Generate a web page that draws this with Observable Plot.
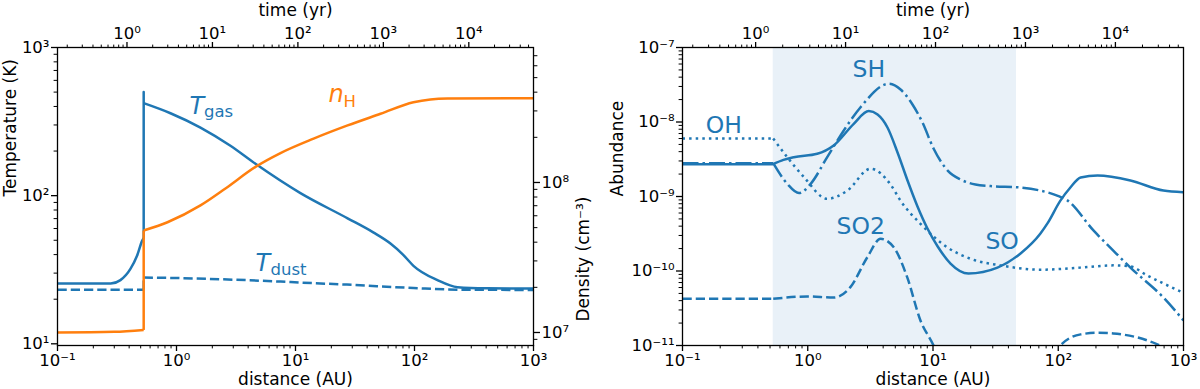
<!DOCTYPE html>
<html><head><meta charset="utf-8">
<script src="https://cdn.jsdelivr.net/npm/d3@7"></script>
<script src="https://cdn.jsdelivr.net/npm/@observablehq/plot@0.6"></script>
<style>
html,body{margin:0;padding:0;background:#fff;}
#chart{position:relative;width:1200px;height:389px;color:#000;font-family:"DejaVu Sans",sans-serif;}
#chart svg{position:absolute;left:0;top:0;background:transparent !important;max-width:none !important;overflow:visible;}
</style></head><body><div id="chart"></div>
<script>
// ---------- data ----------
const distanceTicks = [0.1, 1, 10, 100, 1000];
const temperatureTicks = [10, 100, 1000];
const densityTicks = [1e7, 1e8];
const abundanceTicks = [1e-11, 1e-10, 1e-9, 1e-8, 1e-7];
const timeTicks = [1, 10, 100, 1000, 10000];

const distanceDomain = [0.1, 1000];
const temperatureDomain = [9.74, 1000];
const densityDomain = [8.19e6, 7.94e8];
const abundanceDomain = [1e-11, 1e-7];
const timeDomain = [0.1538, 57150];

const jumpDistance = 0.53;
const shockRegion = [0.53, 46.4];

// [distance (AU), temperature (K)]
const Tgas = [[0.1,25.5],[0.28,25.5],[0.338,26.9],[0.41,32],[0.467,39.4],[0.515,49.7],[0.53,52],[0.53,500],[0.53,421],
  [0.89,360],[1.59,288],[2.84,217],[4.61,164],[11,104],[27.4,70.3],[45,56.5],[62.8,47.5],[80,40],[98,33.6],[156,26.9],
  [230,24.1],[400,23.7],[1000,23.6]];
const Tdust = [[0.1,23.2],[0.53,23.2],[0.53,28.0],[1,27.8],[3,27.1],[7.5,26.3],[11,25.9],[27,25.1],[98,23.8],[230,23.2],[1000,23.1]];
// [distance (AU), density (cm^-3)]
const nH = [[0.1,1.0e7],[0.3,1.01e7],[0.53,1.04e7],[0.53,4.79e7],[0.84,5.43e7],[1.59,7.03e7],[2.58,9.12e7],[4.61,1.27e8],
  [7.48,1.57e8],[14.2,1.96e8],[27.4,2.4e8],[51.8,2.87e8],[98,3.43e8],[136,3.58e8],[189,3.63e8],[1000,3.65e8]];
// [distance (AU), abundance]
const SO = [[0.1,2.72e-9],[0.53,2.72e-9],[0.64,3.1e-9],[0.774,3.37e-9],[1.19,3.74e-9],[1.61,4.84e-9],[2.33,9.46e-9],[3.07,1.40e-8],
  [3.61,1.26e-8],[4.33,8.43e-9],[5.21,3.90e-9],[6.26,1.64e-9],[7.52,7.35e-10],[9.03,3.72e-10],[10.9,2.13e-10],[13.8,1.26e-10],
  [19.2,9.25e-11],[32.7,1.11e-10],[50,1.72e-10],[72.1,3.19e-10],[82,4.35e-10],[104,8.8e-10],[125,1.32e-9],[151,1.80e-9],
  [206,1.91e-9],[377,1.64e-9],[692,1.20e-9],[1000,1.14e-9]];
const SH = [[0.1,2.80e-9],[0.53,2.80e-9],[0.686,1.48e-9],[0.851,1.11e-9],[1.055,1.48e-9],[1.43,3.37e-9],[1.94,7.7e-9],[2.64,1.58e-8],
  [4.44,3.26e-8],[5.51,2.73e-8],[6.86,1.72e-8],[8.24,9.84e-9],[10.1,4.41e-9],[13.1,2.23e-9],[16.6,1.69e-9],[21.8,1.45e-9],
  [28.8,1.38e-9],[49.9,1.32e-9],[72,1.20e-9],[98,1.03e-9],[119,8.8e-10],[191,3.5e-10],[275,1.88e-10],[377,1.11e-10],
  [692,4.4e-11],[1000,2.17e-11]];
const OH = [[0.1,6.0e-9],[0.53,6.0e-9],[0.686,3.37e-9],[0.93,1.83e-9],[1.43,9.3e-10],[2.07,1.2e-9],[3.17,2.36e-9],[4.58,1.45e-9],
  [5.5,8.8e-10],[7.94,4.3e-10],[13.0,2.08e-10],[19.9,1.46e-10],[34.5,1.19e-10],[72,1.04e-10],[150,1.11e-10],[275,1.19e-10],
  [377,1.15e-10],[514,8.7e-11],[692,6.8e-11],[1000,5.1e-11]];
const SO2 = [[0.1,4.23e-11],[0.53,4.23e-11],[0.99,4.55e-11],[1.61,4.4e-11],[2.19,6.07e-11],[2.99,1.53e-10],[3.81,2.7e-10],
  [4.86,2.08e-10],[6.22,8.26e-11],[7.94,2.17e-11],[10.1,1.0e-11],[13,3.5e-12],[25,1.2e-12],[50,1.5e-12],[80,4.5e-12],
  [104,1.0e-11],[151,1.41e-11],[205,1.48e-11],[275,1.45e-11],[514,1.17e-11],[650,1.0e-11],[1000,6.5e-12]];

// ---------- styling / layout ----------
const C0 = "#1f77b4", C1 = "#ff7f0e", SHADE = "#e9f1f8";
const LW = 2.5;
const DASH = {solid: null, dashed: "9.25,4", dashdot: "16,4,2.5,4", dotted: "2.5,4.1"};
const LEFT = {marginLeft: 57, marginRight: 667, marginTop: 47, marginBottom: 44};
const RIGHT = {marginLeft: 682, marginRight: 17, marginTop: 47, marginBottom: 44};
const TICK_FS = 16.5, LABEL_FS = 17, ANN_FS = 23.5, SUB_FS = 16.5;

const SUP = {"0":"⁰","1":"¹","2":"²","3":"³","4":"⁴","5":"⁵","6":"⁶","7":"⁷","8":"⁸","9":"⁹","-":"⁻"};
const pow10 = v => "10" + String(Math.round(Math.log10(v))).split("").map(c => SUP[c]).join("");
function minorTicks([lo, hi]) {
  const out = [];
  for (let e = Math.floor(Math.log10(lo)) - 1; e <= Math.ceil(Math.log10(hi)); e++)
    for (let m = 2; m <= 9; m++) { const v = m * Math.pow(10, e); if (v >= lo && v <= hi) out.push(v); }
  return out;
}
function axes(dim, anchor, major, domain, pad) {
  const A = dim === "x" ? Plot.axisX : Plot.axisY;
  return [
    A(minorTicks(domain), {anchor, tickSize: 3.4, strokeWidth: 1, tickFormat: () => "", label: null}),
    A(major, {anchor, tickSize: 6, strokeWidth: 1.3, tickPadding: pad, tickFormat: pow10, label: null, fontSize: TICK_FS})
  ];
}
function seriesMarks(points, jump, stroke, dash) {
  const first = points.findIndex(p => p[0] === jump);
  let last = first;
  while (last + 1 < points.length && points[last + 1][0] === jump) last++;
  const base = {x: d => d[0], y: d => d[1], stroke, strokeWidth: LW, strokeDasharray: dash, strokeLinecap: "butt", strokeLinejoin: "round", clip: true};
  const marks = [Plot.line(points.slice(0, first + 1), {...base, curve: "monotone-x"})];
  if (last > first) marks.push(Plot.line(points.slice(first, last + 1), {...base, curve: "linear"}));
  marks.push(Plot.line(points.slice(last), {...base, curve: "monotone-x"}));
  return marks;
}
function label(text, opts) { return Plot.text([text], {text: d => d, fontSize: LABEL_FS, fill: "black", lineAnchor: "bottom", ...opts}); }
function addLayer(opts) {
  const svg = Plot.plot({width: 1200, height: 389,
    style: {background: "transparent", overflow: "visible", fontFamily: "DejaVu Sans, sans-serif", fontSize: TICK_FS + "px", color: "black"},
    ...opts});
  document.getElementById("chart").append(svg);
}
const ann = (x, y, text, opts) => Plot.text([[x, y]], {x: d => d[0], y: d => d[1], text: () => text, textAnchor: "start", lineAnchor: "bottom", fontSize: ANN_FS, ...opts});

// ---------- left panel ----------
addLayer({...LEFT,
  x: {type: "log", domain: distanceDomain},
  y: {type: "log", domain: temperatureDomain},
  marks: [
    ...seriesMarks(Tgas, jumpDistance, C0, DASH.solid),
    ...seriesMarks(Tdust, jumpDistance, C0, DASH.dashed),
    ...axes("x", "bottom", distanceTicks, distanceDomain, 2.5),
    ...axes("y", "left", temperatureTicks, temperatureDomain, 2),
    ann(1.285, 357, "T", {fill: C0, fontStyle: "italic", fontSize: 24}),
    ann(1.285, 357, "gas", {fill: C0, fontSize: SUB_FS, dx: 14.5, dy: 3}),
    ann(4.61, 30.9, "T", {fill: C0, fontStyle: "italic", fontSize: 24}),
    ann(4.61, 30.9, "dust", {fill: C0, fontSize: SUB_FS, dx: 15, dy: 4}),
    ann(18.9, 428, "n", {fill: C1, fontStyle: "italic", fontSize: 24}),
    ann(18.9, 428, "H", {fill: C1, fontSize: SUB_FS, dx: 15, dy: 5}),
    label("distance (AU)", {frameAnchor: "bottom", dy: 39}),
    label("Temperature (K)", {frameAnchor: "left", dx: -42, rotate: -90})
  ]
});
addLayer({...LEFT,
  x: {type: "log", domain: distanceDomain, axis: null},
  y: {type: "log", domain: densityDomain},
  marks: [
    ...seriesMarks(nH, jumpDistance, C1, DASH.solid),
    ...axes("y", "right", densityTicks, densityDomain, 2),
    label("Density (cm⁻³)", {frameAnchor: "right", dx: 55, rotate: -90})
  ]
});
addLayer({...LEFT,
  x: {type: "log", domain: timeDomain},
  marks: [
    ...axes("x", "top", timeTicks, timeDomain, 2.7),
    label("time (yr)", {frameAnchor: "top", dy: -32}),
    Plot.frame({stroke: "black", strokeWidth: 1.3})
  ]
});

// ---------- right panel ----------
addLayer({...RIGHT,
  x: {type: "log", domain: distanceDomain},
  y: {type: "log", domain: abundanceDomain},
  marks: [
    Plot.rect([shockRegion], {x1: d => d[0], x2: d => d[1], fill: SHADE}),
    ...seriesMarks(SO, 0.53, C0, DASH.solid),
    ...seriesMarks(SH, 0.53, C0, DASH.dashdot),
    ...seriesMarks(OH, 0.53, C0, DASH.dotted),
    ...seriesMarks(SO2, 0.53, C0, DASH.dashed),
    ...axes("x", "bottom", distanceTicks, distanceDomain, 2.5),
    ...axes("y", "left", abundanceTicks, abundanceDomain, 2),
    ann(0.153, 7.08e-9, "OH", {fill: C0}),
    ann(2.28, 3.99e-8, "SH", {fill: C0}),
    ann(1.70, 3.18e-10, "SO2", {fill: C0}),
    ann(26.2, 1.99e-10, "SO", {fill: C0}),
    label("distance (AU)", {frameAnchor: "bottom", dy: 39}),
    label("Abundance", {frameAnchor: "left", dx: -60, rotate: -90})
  ]
});
addLayer({...RIGHT,
  x: {type: "log", domain: timeDomain},
  marks: [
    ...axes("x", "top", timeTicks, timeDomain, 2.7),
    label("time (yr)", {frameAnchor: "top", dy: -32}),
    Plot.frame({stroke: "black", strokeWidth: 1.3})
  ]
});
</script></body></html>
